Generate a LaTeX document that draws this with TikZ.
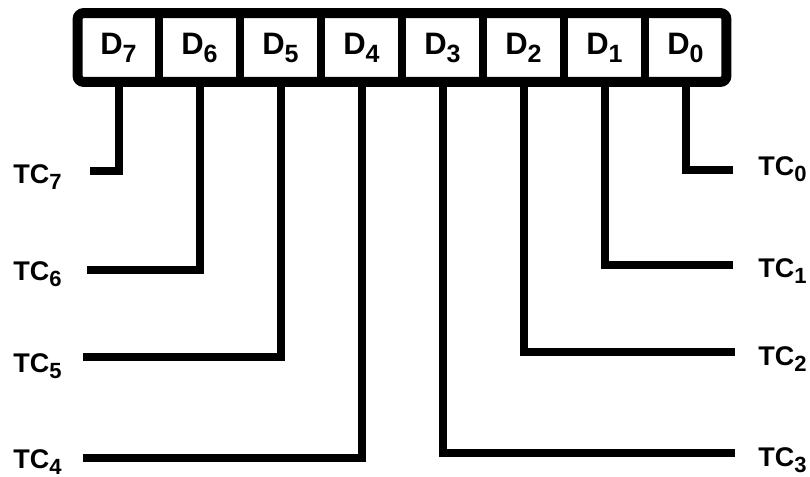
\documentclass[tikz,border=0pt]{standalone}
\usepackage{fontspec}
\setmainfont{Liberation Sans}
\usepackage{tikz}

\newcommand{\dsub}[1]{\raisebox{-4pt}{\fontsize{12.5}{12.5}\selectfont #1}}
\newcommand{\tcsub}[1]{\raisebox{-3pt}{\fontsize{11}{11}\selectfont #1}}

\begin{document}
\begin{tikzpicture}[x=0.5pt,y=-0.5pt,
    cell/.style={minimum width=40.5pt,minimum height=34pt,inner sep=0pt,
                 font=\fontsize{15.5}{15.5}\selectfont\bfseries},
    frame/.style={line width=5pt,rounded corners=3pt},
    wire/.style={line width=4pt},
    tclabel/.style={font=\fontsize{13.5}{13.5}\selectfont\bfseries,inner sep=0pt}]

  \useasboundingbox (0,0) rectangle (810,477);

  % --- REGISTER: data bits D7..D0 ---
  \foreach \b [count=\i from 0] in {7,6,5,4,3,2,1,0}
    \node[cell] (d\b) at (118.5+81*\i,47.5) {D\dsub{\b}};
  \draw[frame] (d7.north west) rectangle (d0.south east);
  \foreach \b in {7,6,5,4,3,2,1}
    \draw[wire] (d\b.north east) -- (d\b.south east);

  % --- LEFT TAPS: TC7..TC4 ---
  \foreach \b/\y/\xe/\ty in {7/171/90/183, 6/270/87/280, 5/357/83/372, 4/458/83/468} {
    \coordinate (e\b) at (\xe,\y);
    \draw[wire] (d\b.south) |- (e\b);
    \node[tclabel,anchor=base west] (tc\b) at (13,\ty) {TC\tcsub{\b}};
  }

  % --- RIGHT TAPS: TC0..TC3 ---
  \foreach \b/\y/\xe/\ty in {0/170/733/175, 1/265/733/277, 2/352/735/365, 3/453/735/466} {
    \coordinate (e\b) at (\xe,\y);
    \draw[wire] (d\b.south) |- (e\b);
    \node[tclabel,anchor=base west] (tc\b) at (758,\ty) {TC\tcsub{\b}};
  }

\end{tikzpicture}
\end{document}
